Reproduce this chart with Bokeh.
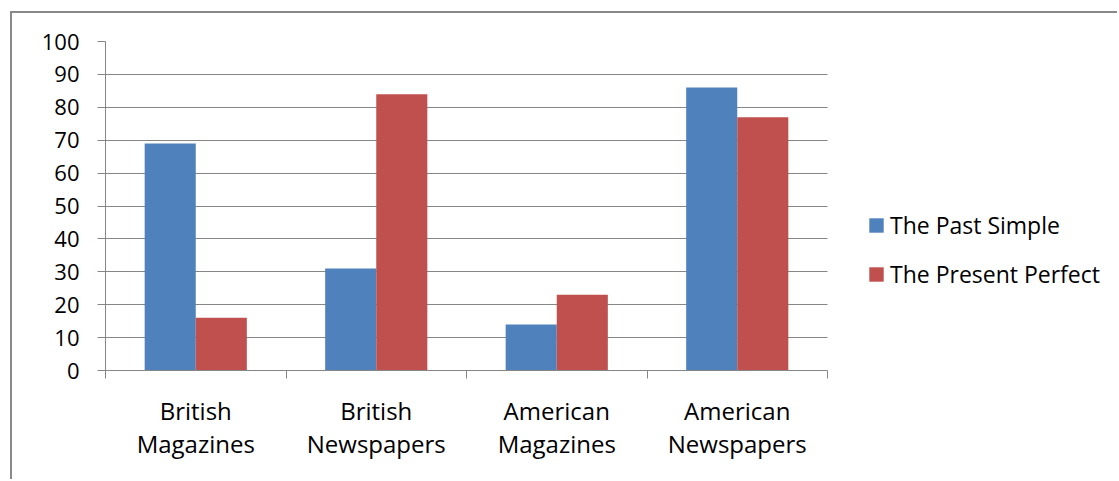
from bokeh.plotting import figure
from bokeh.models import ColumnDataSource, Range1d, FixedTicker, Legend, LegendItem
from bokeh.transform import dodge
from bokeh.embed import file_html
from bokeh.resources import INLINE

categories = ["British\nMagazines", "British\nNewspapers", "American\nMagazines", "American\nNewspapers"]
past_simple = [69, 31, 14, 86]
present_perfect = [16, 84, 23, 77]
y_ticks = [0, 10, 20, 30, 40, 50, 60, 70, 80, 90, 100]

BLUE = "#4F81BD"
RED = "#C0504D"
GRAY = "#868686"
FONT = "Open Sans"

n = len(categories)
xs = [i + 0.5 for i in range(n)]
src = ColumnDataSource(dict(x=xs, past=past_simple, perfect=present_perfect))

# frame spans 1014 px; the category area (n units) spans 722 px of it
x_end = n * 1014 / 722

p = figure(width=1107, height=468, output_backend="svg", toolbar_location=None,
           x_range=Range1d(0, x_end), y_range=Range1d(0, 100),
           min_border_left=93, min_border_right=0, min_border_top=28, min_border_bottom=111,
           margin=(11, 0, 0, 10),
           styles={"border-left": "2px solid #898989", "border-top": "2px solid #898989"})
p.outline_line_color = None
p.background_fill_color = "white"
p.border_fill_color = "white"

r1 = p.vbar(x=dodge("x", -0.1415), top="past", width=0.283, source=src,
            fill_color=BLUE, line_color=None)
r2 = p.vbar(x=dodge("x", 0.1415), top="perfect", width=0.283, source=src,
            fill_color=RED, line_color=None)

# y axis
p.yaxis.ticker = FixedTicker(ticks=y_ticks)
p.yaxis.axis_line_color = GRAY
p.yaxis.major_tick_line_color = GRAY
p.yaxis.major_tick_in = 0
p.yaxis.major_tick_out = 8
p.yaxis.minor_tick_line_color = None
p.yaxis.major_label_text_font = FONT
p.yaxis.major_label_text_font_size = "22px"
p.yaxis.major_label_text_color = "black"
p.yaxis.major_label_standoff = 18

# x axis
p.xaxis.ticker = FixedTicker(ticks=xs, minor_ticks=list(range(n + 1)))
p.xaxis.bounds = (0, n)
p.xaxis.major_label_overrides = {x: c for x, c in zip(xs, categories)}
p.xaxis.axis_line_color = GRAY
p.xaxis.major_tick_line_color = None
p.xaxis.major_tick_in = 0
p.xaxis.major_tick_out = 8
p.xaxis.minor_tick_line_color = GRAY
p.xaxis.minor_tick_in = 0
p.xaxis.minor_tick_out = 8
p.xaxis.major_label_text_font = FONT
p.xaxis.major_label_text_font_size = "24px"
p.xaxis.major_label_text_color = "black"
p.xaxis.major_label_text_line_height = 1.0
p.xaxis.major_label_standoff = 15

p.xgrid.visible = False
p.ygrid.grid_line_color = GRAY
p.ygrid.ticker = FixedTicker(ticks=y_ticks)
p.ygrid.cross_bounds = (0, n)

legend = Legend(items=[LegendItem(label="The Past Simple", renderers=[r1]),
                       LegendItem(label="The Present Perfect", renderers=[r2])],
                location=(762, 80), padding=0, margin=0, spacing=17,
                glyph_width=18, glyph_height=18, label_standoff=5,
                label_text_font=FONT, label_text_font_size="23px",
                label_text_color="black",
                border_line_color=None, background_fill_alpha=0)
p.add_layout(legend, "center")

open("out.html", "w").write(file_html(p, INLINE))
